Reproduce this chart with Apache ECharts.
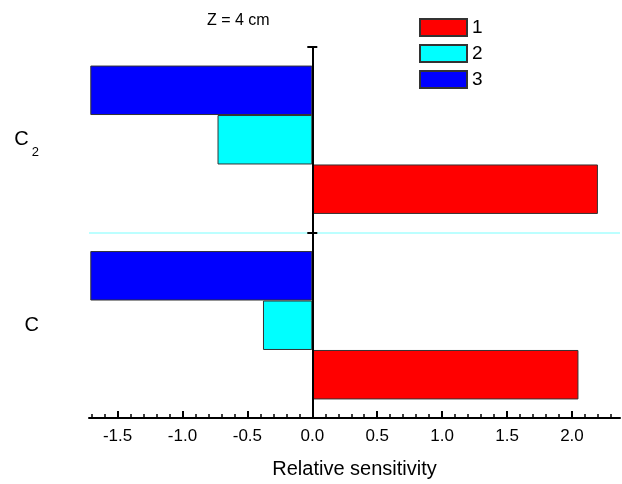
<!DOCTYPE html>
<html>
<head>
<meta charset="utf-8">
<script src="https://cdn.jsdelivr.net/npm/echarts@6/dist/echarts.min.js"></script>
<style>
  html, body { margin: 0; padding: 0; background: #fff; }
  #chart { width: 622px; height: 484px; }
</style>
</head>
<body>
<div id="chart"></div>
<script>
// Categories on the vertical axis (bottom to top)
const categories = ['C', 'C2'];
// Relative sensitivity for each curve
const series1 = [2.05, 2.20];
const series2 = [-0.38, -0.73];
const series3 = [-1.71, -1.71];
const seriesNames = ['1', '2', '3'];
const seriesColors = ['#ff0000', '#00ffff', '#0000ff'];
// Major tick labels of the value axis
const tickLabels = ['-1.5', '-1.0', '-0.5', '0.0', '0.5', '1.0', '1.5', '2.0'];
const xMin = -1.72, xMax = 2.37;

const majorTicks = tickLabels.map(Number);
const minorTicks = [];
for (let i = -17; i <= 23; i++) minorTicks.push(i / 10);

const FONT = 'Arial, "Liberation Sans", sans-serif';
const chart = echarts.init(document.getElementById('chart'), null, { renderer: 'canvas' });

const valueRows = [series1, series2, series3];
// Bars of the same category stack top-down in series order, so curve 3 goes first
const barSeries = [2, 1, 0].map(i => ({
  name: seriesNames[i],
  type: 'bar',
  xAxisIndex: 0,
  yAxisIndex: 0,
  data: valueRows[i],
  barGap: '0%',
  barCategoryGap: '20%',
  itemStyle: { color: seriesColors[i], borderColor: '#333', borderWidth: 1 },
  z: 1
}));

chart.setOption({
  animation: false,
  backgroundColor: '#fff',
  textStyle: { fontFamily: FONT, color: '#000' },
  title: {
    text: 'Z = 4 cm',
    left: 202,
    top: 8,
    textStyle: { fontFamily: FONT, fontSize: 16, fontWeight: 'normal', color: '#000' }
  },
  legend: {
    orient: 'vertical',
    left: 414,
    top: 13,
    itemWidth: 47,
    itemHeight: 17,
    itemGap: 7,
    icon: 'rect',
    data: seriesNames,
    textStyle: { fontFamily: FONT, fontSize: 19, color: '#000' }
  },
  grid: { left: 89, right: 2, top: 47, bottom: 64, containLabel: false },
  xAxis: [
    {
      type: 'value',
      min: xMin,
      max: xMax,
      position: 'bottom',
      name: 'Relative sensitivity',
      nameLocation: 'middle',
      nameGap: 41,
      nameTextStyle: { fontFamily: FONT, fontSize: 20, color: '#000' },
      axisLine: { show: true, lineStyle: { color: '#000', width: 2 } },
      axisTick: { show: true, inside: true, length: 7, customValues: majorTicks, lineStyle: { color: '#000', width: 2 } },
      axisLabel: {
        show: true,
        customValues: majorTicks,
        formatter: v => tickLabels[majorTicks.findIndex(t => Math.abs(t - v) < 1e-9)] ?? '',
        fontFamily: FONT, fontSize: 17, color: '#000', margin: 10
      },
      splitLine: { show: false }
    },
    {
      type: 'value',
      min: xMin,
      max: xMax,
      position: 'bottom',
      axisLine: { show: false },
      axisTick: { show: true, inside: true, length: 4, customValues: minorTicks, lineStyle: { color: '#000', width: 1.5 } },
      axisLabel: { show: false },
      splitLine: { show: false }
    }
  ],
  yAxis: [
    {
      type: 'category',
      data: categories,
      position: 'left',
      axisLine: { show: true, onZero: true, lineStyle: { color: '#000', width: 2 } },
      axisTick: { show: true, length: 5, lineStyle: { color: '#000', width: 2 } },
      axisLabel: { show: false },
      splitLine: { show: true, lineStyle: { color: ['rgba(0,0,0,0)', '#a6ffff'], width: 1.5 } },
      z: 3
    },
    {
      type: 'category',
      data: categories,
      position: 'left',
      axisLine: { show: false, onZero: false },
      axisTick: { show: false },
      splitLine: { show: false },
      axisLabel: {
        show: true,
        margin: 50,
        formatter: v => v === 'C2' ? '{b|C}{s|2}' : '{b|' + v + '}',
        rich: {
          b: { fontFamily: FONT, fontSize: 20, color: '#000', lineHeight: 22 },
          s: { fontFamily: FONT, fontSize: 13, color: '#000', lineHeight: 13, padding: [25, 0, 0, 3] }
        }
      }
    },
    {
      type: 'category',
      data: categories,
      position: 'left',
      axisLine: { show: false, onZero: true },
      axisTick: { show: true, inside: true, length: 5, lineStyle: { color: '#000', width: 2 } },
      axisLabel: { show: false },
      splitLine: { show: false },
      z: 3
    }
  ],
  series: barSeries
});
</script>
</body>
</html>
